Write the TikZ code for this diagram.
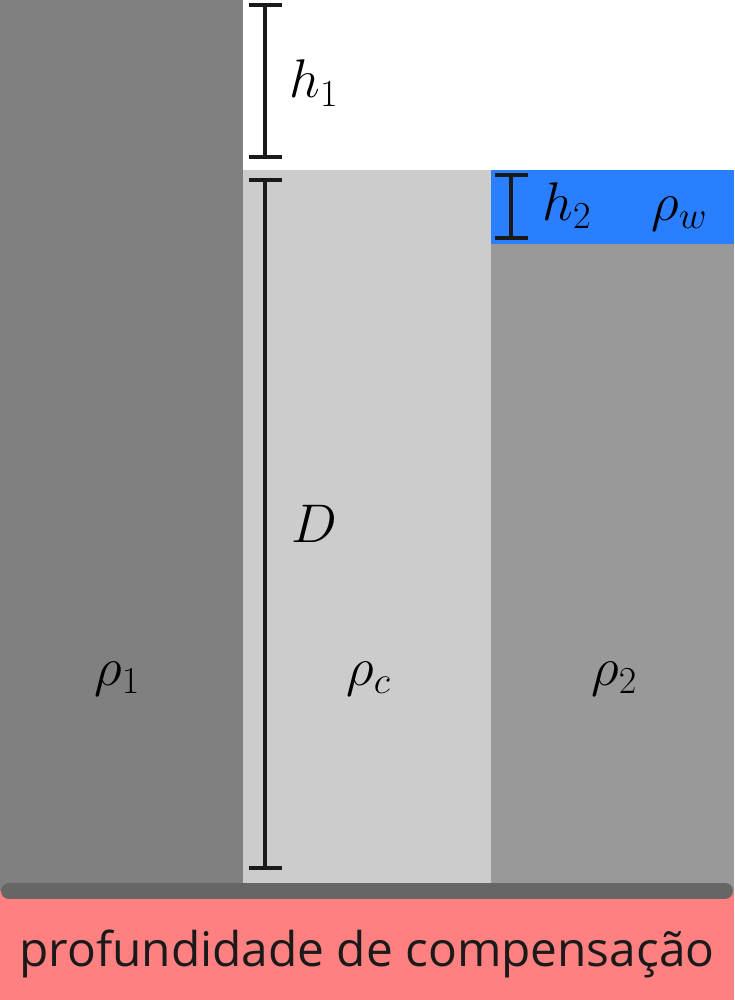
\documentclass[tikz,border=0pt]{standalone}
\usepackage{fix-cm}
\usepackage{fontspec}
\setmainfont{Open Sans}
\usetikzlibrary{arrows.meta, positioning}
\definecolor{leftgray}{HTML}{808080}
\definecolor{crustgray}{HTML}{CCCCCC}
\definecolor{rightgray}{HTML}{999999}
\definecolor{water}{HTML}{2A7FFF}
\definecolor{basegray}{HTML}{666666}
\definecolor{comp}{HTML}{FF8080}
\definecolor{ink}{HTML}{1A1A1A}

\begin{document}
\begin{tikzpicture}[x=0.02cm, y=-0.02cm,
  lbl/.style={font=\fontsize{31}{36}\selectfont, inner sep=0pt, anchor=base west},
  dimbar/.style={draw=ink, line width=0.08cm, {Bar[width=0.66cm]}-{Bar[width=0.66cm]}},
  caption/.style={font=\fontsize{27.2}{32}\selectfont, text=ink, inner sep=0pt, anchor=base}
]
  \useasboundingbox (0,0) rectangle (734,1000);

  % columns
  \fill[comp] (0,891) rectangle (734,1000);
  \fill[leftgray] (0,0) rectangle (243,891);
  \fill[crustgray] (243,170) rectangle (491,891);
  \fill[water] (491,170) rectangle (734,244);
  \fill[rightgray] (491,244) rectangle (734,891);

  % compensation level
  \coordinate (bl) at (9,891);
  \coordinate (br) at (725,891);
  \draw[basegray, line width=0.32cm, line cap=round] (bl) -- (br);

  % dimension ends
  \coordinate (hone top) at (265,3.5);
  \coordinate (hone bot) at (265,159.5);
  \coordinate (D top) at (265,178.5);
  \coordinate (D bot) at (265,869.5);
  \coordinate (htwo top) at (511,173);
  \coordinate (htwo bot) at (511,239.5);

  \draw[dimbar] (hone top) -- (hone bot);
  \draw[dimbar] (D top) -- (D bot);
  \draw[dimbar] (htwo top) -- (htwo bot);

  \node[lbl] (hone) at (289,98) {$h_1$};
  \node[lbl] (htwo) at (542,220) {$h_2$};
  \node[lbl] (rhow) at (651,220) {$\rho_w$};
  \node[lbl] (depth) at (291,542) {$D$};
  \node[lbl] (rhoone) at (94,685) {$\rho_1$};
  \node[lbl] (rhoc) at (346,685) {$\rho_c$};
  \node[lbl] (rhotwo) at (591,685) {$\rho_2$};

  \node[caption] (level) at (367,966) {profundidade de compensação};
\end{tikzpicture}
\end{document}
